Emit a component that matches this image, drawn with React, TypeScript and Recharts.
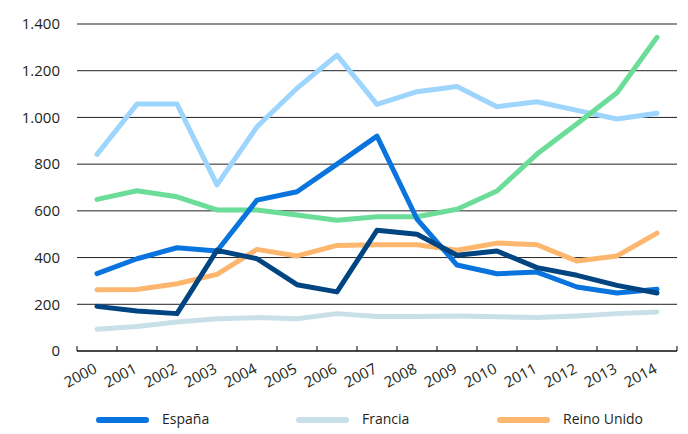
import React from "react";
import { LineChart, Line, XAxis, YAxis, CartesianGrid, Legend } from "recharts";

const years = ["2000","2001","2002","2003","2004","2005","2006","2007","2008","2009","2010","2011","2012","2013","2014"];
const espana = [331, 395, 442, 428, 646, 682, 800, 920, 565, 368, 331, 338, 274, 248, 264];
const francia = [93, 105, 124, 138, 143, 138, 160, 148, 148, 150, 147, 143, 150, 160, 167];
const reinoUnido = [262, 263, 288, 328, 435, 407, 452, 455, 455, 431, 462, 455, 385, 407, 505];
const serieCeleste = [842, 1057, 1057, 711, 960, 1125, 1267, 1056, 1110, 1132, 1046, 1067, 1030, 993, 1018];
const serieVerde = [649, 686, 660, 604, 604, 582, 560, 575, 575, 607, 685, 843, 973, 1106, 1343];
const serieMarino = [191, 171, 160, 431, 395, 284, 253, 517, 500, 410, 428, 357, 324, 281, 248];
const yTicks = [0, 200, 400, 600, 800, 1000, 1200, 1400];

const data = years.map((year, i) => ({
  year,
  espana: espana[i],
  francia: francia[i],
  reinoUnido: reinoUnido[i],
  celeste: serieCeleste[i],
  verde: serieVerde[i],
  marino: serieMarino[i],
}));

const FONT = "'Open Sans', sans-serif";
const TXT = "#231f20";

const fmt = (v: number) => String(v).replace(/\B(?=(\d{3})+(?!\d))/g, ".");

const legendItems = [
  { name: "España", color: "#0a74de", lineLeft: 96, textLeft: 162 },
  { name: "Francia", color: "#c9e0e8", lineLeft: 296, textLeft: 362 },
  { name: "Reino Unido", color: "#fdb66e", lineLeft: 497, textLeft: 563 },
];

const XTick = (props: any) => {
  const { x, y, payload, width, visibleTicksCount } = props;
  const half = width / visibleTicksCount / 2;
  const ax = x + 1;
  const ay = y + 21;
  return (
    <g>
      <line x1={x - half} x2={x - half} y1={y - 5} y2={y} stroke="#000" strokeWidth={1} />
      {payload.index === visibleTicksCount - 1 && (
        <line x1={x + half} x2={x + half} y1={y - 5} y2={y} stroke="#000" strokeWidth={1} />
      )}
      <text
        x={ax}
        y={ay}
        textAnchor="end"
        fontFamily={FONT}
        fontSize={15}
        fill={TXT}
        transform={`rotate(-28 ${ax} ${ay})`}
      >
        {payload.value}
      </text>
    </g>
  );
};

const LegendContent = () => (
  <div style={{ position: "relative", width: 688, height: 30 }}>
    {legendItems.map((it) => (
      <React.Fragment key={it.name}>
        <div
          style={{
            position: "absolute",
            left: it.lineLeft,
            top: 16,
            width: 53,
            height: 6,
            borderRadius: 3,
            background: it.color,
          }}
        />
        <div
          style={{
            position: "absolute",
            left: it.textLeft,
            top: 8,
            fontFamily: FONT,
            fontSize: 14,
            lineHeight: "20px",
            color: TXT,
            whiteSpace: "nowrap",
          }}
        >
          {it.name}
        </div>
      </React.Fragment>
    ))}
  </div>
);

export default function App() {
  return (
    <div style={{ position: "absolute", left: 0, top: 0, background: "#fff" }}>
      <LineChart width={688} height={434} data={data} margin={{ top: 24, right: 11, bottom: 3, left: 0 }}>
        <CartesianGrid vertical={false} stroke="#222" strokeWidth={1} />
        <XAxis
          dataKey="year"
          scale="band"
          interval={0}
          axisLine={{ stroke: "#000", strokeWidth: 1 }}
          tickLine={false}
          tickSize={0}
          tickMargin={0}
          height={50}
          tick={<XTick />}
        />
        <YAxis
          domain={[0, 1400]}
          ticks={yTicks}
          width={77}
          axisLine={false}
          tickLine={false}
          tickSize={0}
          tickMargin={17}
          tickFormatter={fmt}
          tick={{ fontFamily: FONT, fontSize: 15, fill: TXT }}
        />
        <Legend verticalAlign="bottom" height={30} wrapperStyle={{ left: 0, width: 688, height: 30 }} content={<LegendContent />} />
        <Line type="linear" dataKey="francia" name="Francia" stroke="#c9e0e8" strokeWidth={5} dot={false} strokeLinecap="round" strokeLinejoin="round" isAnimationActive={false} />
        <Line type="linear" dataKey="reinoUnido" name="Reino Unido" stroke="#fdb66e" strokeWidth={5} dot={false} strokeLinecap="round" strokeLinejoin="round" isAnimationActive={false} />
        <Line type="linear" dataKey="celeste" name="Serie 4" legendType="none" stroke="#9dd5fc" strokeWidth={5} dot={false} strokeLinecap="round" strokeLinejoin="round" isAnimationActive={false} />
        <Line type="linear" dataKey="verde" name="Serie 5" legendType="none" stroke="#6bdd99" strokeWidth={5} dot={false} strokeLinecap="round" strokeLinejoin="round" isAnimationActive={false} />
        <Line type="linear" dataKey="espana" name="España" stroke="#0a74de" strokeWidth={5} dot={false} strokeLinecap="round" strokeLinejoin="round" isAnimationActive={false} />
        <Line type="linear" dataKey="marino" name="Serie 6" legendType="none" stroke="#004482" strokeWidth={5} dot={false} strokeLinecap="round" strokeLinejoin="round" isAnimationActive={false} />
      </LineChart>
    </div>
  );
}
